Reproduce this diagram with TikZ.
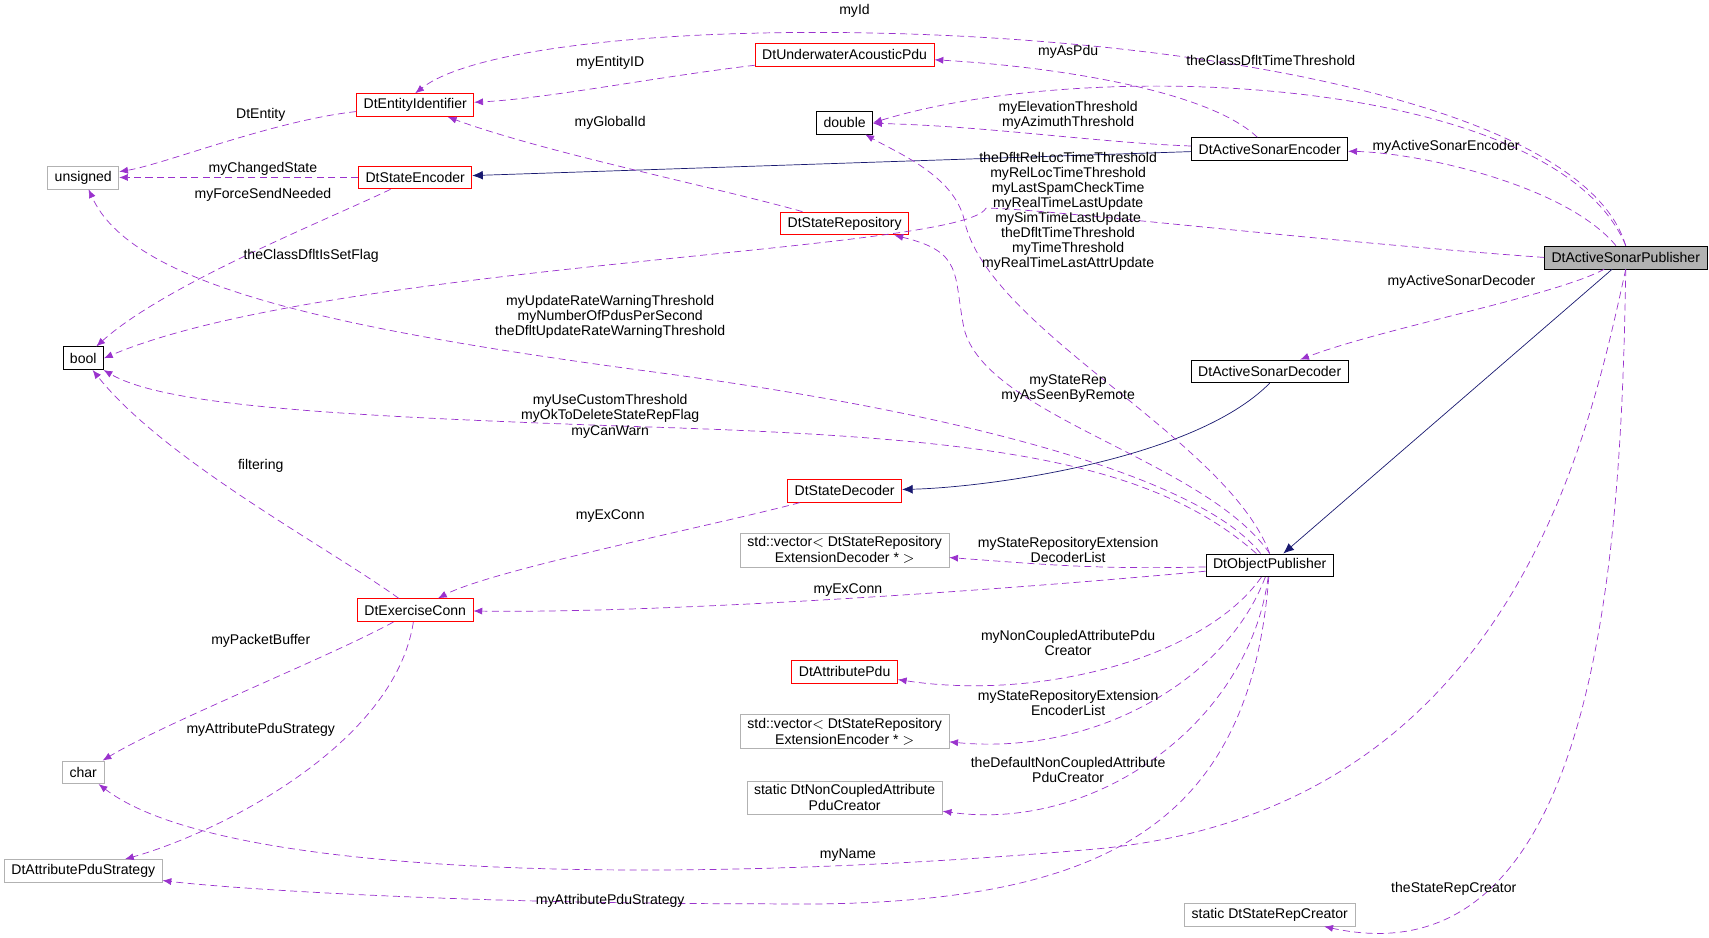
\documentclass[tikz,border=0pt]{standalone}
\usepackage{fontspec}
\setmainfont{Liberation Sans}
\usepackage{tikz}

\definecolor{edgepurple}{RGB}{154,50,205}
\definecolor{inhblue}{RGB}{25,25,112}
\tikzset{
  cls/.style={draw=red,fill=white,inner xsep=4pt,inner ysep=2pt,minimum height=13pt,line width=0.5pt,font=\fontsize{8}{9}\selectfont},
  ext/.style={draw=black!30,fill=white,inner xsep=4pt,inner ysep=2pt,minimum height=13pt,align=center,font=\fontsize{8}{9}\selectfont},
  plain/.style={draw=black,fill=white,inner xsep=4pt,inner ysep=2pt,minimum height=13pt,font=\fontsize{8}{9}\selectfont},
  use/.style={draw=edgepurple,dashed,dash pattern=on 4pt off 2.5pt,-{Latex[length=5pt,width=4pt]}},
  inh/.style={draw=inhblue,-{Latex[length=6pt,width=5pt]}},
  lbl/.style={font=\fontsize{8}{8.6}\selectfont,align=center,inner sep=0pt}
}
\usetikzlibrary{arrows.meta}

\begin{document}
\begin{tikzpicture}[x=0.02191cm,y=-0.02191cm]
\useasboundingbox (0,0) rectangle (1560,856);
\node[plain,fill=black!30] (pub) at (1484,235) {DtActiveSonarPublisher};
\node[cls] (uap) at (771,50) {DtUnderwaterAcousticPdu};
\node[cls] (eid) at (379,96) {DtEntityIdentifier};
\node[plain] (dbl) at (771,112) {double};
\node[plain] (enc) at (1159,136) {DtActiveSonarEncoder};
\node[ext] (uns) at (76,162) {unsigned};
\node[cls] (senc) at (379,162) {DtStateEncoder};
\node[cls] (srep) at (771,204) {DtStateRepository};
\node[plain] (bool) at (76,327) {bool};
\node[plain] (dec) at (1159,339) {DtActiveSonarDecoder};
\node[cls] (sdec) at (771,448) {DtStateDecoder};
\node[ext] (vdec) at (771,502) {std::vector$<$ DtStateRepository\\ExtensionDecoder * $>$};
\node[plain] (opub) at (1159,516) {DtObjectPublisher};
\node[cls] (exc) at (379,557) {DtExerciseConn};
\node[cls] (apdu) at (771,613) {DtAttributePdu};
\node[ext] (venc) at (771,668) {std::vector$<$ DtStateRepository\\ExtensionEncoder * $>$};
\node[ext] (ncap) at (771,728) {static DtNonCoupledAttribute\\PduCreator};
\node[ext] (chr) at (76,705) {char};
\node[ext] (aps) at (76,795) {DtAttributePduStrategy};
\node[ext] (src) at (1159,835) {static DtStateRepCreator};
% inheritance
\draw[inh] (pub) -- (opub);
\draw[inh] (enc) -- (senc);
\draw[inh] (dec.south) .. controls (1090,420) and (900,445) .. (sdec);
% publisher members
\draw[use] (pub.north) .. controls (1420,10) and (500,-10) .. (eid.north);
\draw[use] (pub.north) .. controls (1420,70) and (1000,50) .. (dbl.east);
\draw[use] (pub) .. controls (1430,170) and (1300,140) .. (enc);
\draw[use] (pub.west) .. controls (1200,220) and (950,190) .. (900,190) .. controls (880,230) and (300,240) .. (bool.east);
\draw[use] (pub) .. controls (1420,270) and (1260,300) .. (dec);
\draw[use] (pub.south) .. controls (1450,400) and (1380,740) .. (1000,775) .. controls (600,810) and (200,800) .. (chr);
\draw[use] (pub.south) .. controls (1480,500) and (1460,900) .. (src);
% other members
\draw[use] (uap) .. controls (600,70) and (500,90) .. (eid);
\draw[use] (enc) .. controls (1100,80) and (950,60) .. (uap);
\draw[use] (enc) .. controls (1000,130) and (900,115) .. (dbl);
\draw[use] (eid) .. controls (250,110) and (150,150) .. (uns);
\draw[use] (senc) -- (uns);
\draw[use] (senc) .. controls (300,200) and (150,260) .. (bool);
\draw[use] (srep) .. controls (650,170) and (500,140) .. (eid);
\draw[use] (opub) .. controls (1100,440) and (900,380) .. (600,340) .. controls (300,300) and (120,260) .. (uns);
\draw[use] (opub) .. controls (1050,420) and (900,400) .. (600,390) .. controls (300,380) and (150,370) .. (bool);
\draw[use] (opub.north) .. controls (1100,420) and (900,380) .. (880,300) .. controls (870,250) and (880,230) .. (srep);
\draw[use] (opub.north) .. controls (1120,400) and (900,300) .. (880,200) .. controls (870,160) and (820,140) .. (dbl);
\draw[use] (opub) .. controls (1000,520) and (950,515) .. (vdec);
\draw[use] (opub) .. controls (900,540) and (600,560) .. (exc);
\draw[use] (opub) .. controls (1100,600) and (950,640) .. (apdu);
\draw[use] (opub) .. controls (1120,620) and (1000,690) .. (venc);
\draw[use] (opub) .. controls (1140,660) and (1000,760) .. (ncap);
\draw[use] (opub) .. controls (1140,760) and (1000,830) .. (700,825) .. controls (400,825) and (200,810) .. (aps);
\draw[use] (sdec) .. controls (650,480) and (450,520) .. (exc);
\draw[use] (exc) .. controls (300,500) and (150,420) .. (bool);
\draw[use] (exc) .. controls (300,600) and (150,660) .. (chr);
\draw[use] (exc) .. controls (360,680) and (200,760) .. (aps);
% labels
\node[lbl] (lId) at (780,10) {myId};
\node[lbl] (lCt) at (1160,55) {theClassDfltTimeThreshold};
\node[lbl] (lAe) at (1320,134) {myActiveSonarEncoder};
\node[lbl] (lTh) at (975,193) {theDfltRelLocTimeThreshold\\myRelLocTimeThreshold\\myLastSpamCheckTime\\myRealTimeLastUpdate\\mySimTimeLastUpdate\\theDfltTimeThreshold\\myTimeThreshold\\myRealTimeLastAttrUpdate};
\node[lbl] (lFl) at (284,234) {theClassDfltIsSetFlag};
\node[lbl] (lAd) at (1334,257) {myActiveSonarDecoder};
\node[lbl] (lNm) at (774,781) {myName};
\node[lbl] (lRc) at (1327,811) {theStateRepCreator};
\node[lbl] (lEi) at (557,57) {myEntityID};
\node[lbl] (lAp) at (975,47) {myAsPdu};
\node[lbl] (lEl) at (975,105) {myElevationThreshold\\myAzimuthThreshold};
\node[lbl] (lDe) at (238,105) {DtEntity};
\node[lbl] (lCs) at (240,154) {myChangedState};
\node[lbl] (lFs) at (240,178) {myForceSendNeeded};
\node[lbl] (lGi) at (557,112) {myGlobalId};
\node[lbl] (lUr) at (557,289) {myUpdateRateWarningThreshold\\myNumberOfPdusPerSecond\\theDfltUpdateRateWarningThreshold};
\node[lbl] (lCu) at (557,380) {myUseCustomThreshold\\myOkToDeleteStateRepFlag\\myCanWarn};
\node[lbl] (lSr) at (975,355) {myStateRep\\myAsSeenByRemote};
\node[lbl] (lDl) at (975,502) {myStateRepositoryExtension\\DecoderList};
\node[lbl] (lEc) at (774,539) {myExConn};
\node[lbl] (lNc) at (975,587) {myNonCoupledAttributePdu\\Creator};
\node[lbl] (lEl2) at (975,642) {myStateRepositoryExtension\\EncoderList};
\node[lbl] (lDn) at (975,703) {theDefaultNonCoupledAttribute\\PduCreator};
\node[lbl] (lAs) at (557,822) {myAttributePduStrategy};
\node[lbl] (lEc2) at (557,471) {myExConn};
\node[lbl] (lFi) at (238,425) {filtering};
\node[lbl] (lPb) at (238,585) {myPacketBuffer};
\node[lbl] (lAs2) at (238,666) {myAttributePduStrategy};
\end{tikzpicture}
\end{document}
